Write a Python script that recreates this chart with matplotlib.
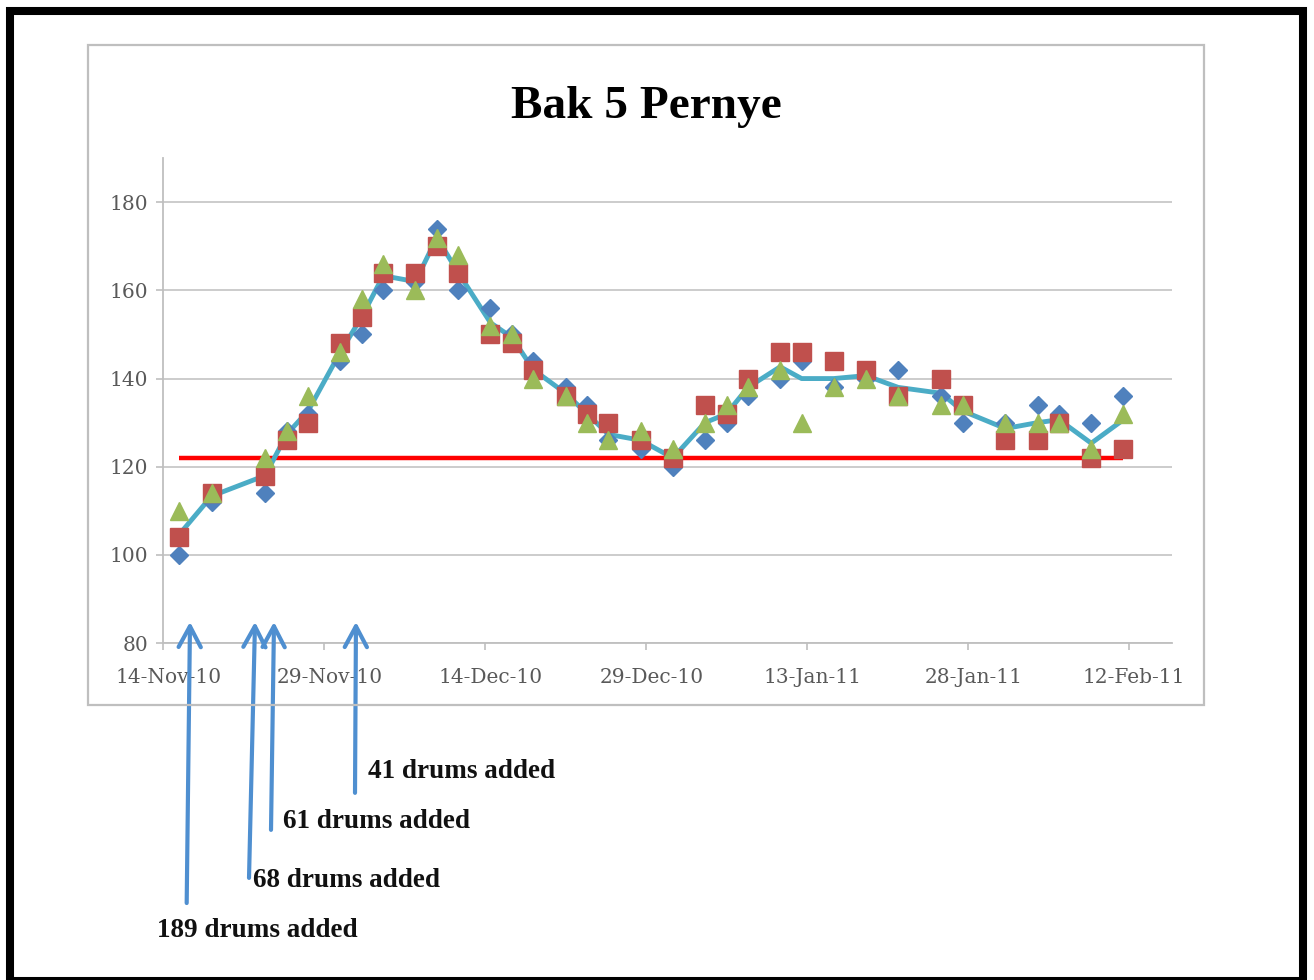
import numpy as np
import pandas as pd
import matplotlib
matplotlib.use('Agg')
import matplotlib.pyplot as plt
import matplotlib.dates as mdates
from matplotlib.patches import Rectangle

# readings per sample date (three measurements each)
dates = ['2010-11-15', '2010-11-18', '2010-11-23', '2010-11-25', '2010-11-27',
         '2010-11-30', '2010-12-02', '2010-12-04', '2010-12-07', '2010-12-09',
         '2010-12-11', '2010-12-14', '2010-12-16', '2010-12-18', '2010-12-21',
         '2010-12-23', '2010-12-25', '2010-12-28', '2010-12-31', '2011-01-03',
         '2011-01-05', '2011-01-07', '2011-01-10', '2011-01-12', '2011-01-15',
         '2011-01-18', '2011-01-21', '2011-01-25', '2011-01-27', '2011-01-31',
         '2011-02-03', '2011-02-05', '2011-02-08', '2011-02-11']
blue = [100, 112, 114, 128, 132, 144, 150, 160, 162, 174, 160, 156, 150, 144, 138, 134, 126,
        124, 120, 126, 130, 136, 140, 144, 138, 140, 142, 136, 130, 130, 134, 132, 130, 136]
red = [104, 114, 118, 126, 130, 148, 154, 164, 164, 170, 164, 150, 148, 142, 136, 132, 130,
       126, 122, 134, 132, 140, 146, 146, 144, 142, 136, 140, 134, 126, 126, 130, 122, 124]
green = [110, 114, 122, 128, 136, 146, 158, 166, 160, 172, 168, 152, 150, 140, 136, 130, 126,
         128, 124, 130, 134, 138, 142, 130, 138, 140, 136, 134, 134, 130, 130, 130, 124, 132]
target = 122

tick_dates = ['2010-11-14', '2010-11-29', '2010-12-14', '2010-12-29',
              '2011-01-13', '2011-01-28', '2011-02-12']

# hand drawn arrows: label, (tip day, tail day) counted from 14-Nov, tail value
arrow_labels = ['189 drums added', '68 drums added', '61 drums added', '41 drums added']
arrow_tip_day = [2.49, 8.55, 10.32, 17.96]
arrow_tail_day = [2.18, 7.99, 10.04, 17.87]
arrow_tail_val = [21.0, 26.7, 37.6, 46.0]
label_xy = [(157, 937), (253, 887), (283, 828), (368, 778)]  # pixels, baseline

W, H = 1314, 980
fig = plt.figure(figsize=(W / 100, H / 100), dpi=100)
fig.patch.set_facecolor('white')

ax = fig.add_axes([163.3 / W, 1 - 643 / H, (1171.7 - 163.3) / W, (643 - 158.2) / H])

half = pd.Timedelta(hours=12)   # excel puts points / labels mid-day
x = pd.to_datetime(dates) + half
avg = np.mean([blue, red, green], axis=0)
start = pd.Timestamp('2010-11-14')

ax.plot([x[0], x[-1]], [target, target], color='#FF0000', lw=3.2, zorder=2,
        solid_capstyle='butt')
ax.plot(x, avg, color='#4BACC6', lw=3.5, zorder=3)
ax.plot(x, blue, 'D', ms=9, color='#4F81BD', mec='#4F81BD', zorder=4)
ax.plot(x, red, 's', ms=12.5, color='#C0504D', mec='#C0504D', zorder=5)
ax.plot(x, green, '^', ms=13, color='#9BBB59', mec='#9BBB59', zorder=6)

ax.set_xlim(start, start + pd.Timedelta(days=94))
ax.set_ylim(80, 190)
ax.set_yticks(np.arange(80, 181, 20))
ticks = pd.to_datetime(tick_dates)
ax.set_xticks(ticks + half)
ax.set_xticks(ticks, minor=True)
ax.xaxis.set_major_formatter(mdates.DateFormatter('%d-%b-%y'))

for s in ['top', 'right']:
    ax.spines[s].set_visible(False)
for s in ['left', 'bottom']:
    ax.spines[s].set_color('#BFBFBF')
    ax.spines[s].set_linewidth(1.3)
ax.grid(axis='y', color='#C4C4C4', lw=1.2)
ax.set_axisbelow(True)
ax.tick_params(colors='#BFBFBF', labelcolor='#595959', length=5, width=1.2)
ax.tick_params(axis='x', which='major', length=0, pad=18)
ax.tick_params(axis='x', which='minor', length=5, width=1.2, colors='#BFBFBF')
ax.tick_params(axis='y', pad=6)
for lab in ax.get_xticklabels() + ax.get_yticklabels():
    lab.set_family('DejaVu Serif')
    lab.set_fontsize(14.5)

# arrows below the axis
for tip, tail, tv in zip(arrow_tip_day, arrow_tail_day, arrow_tail_val):
    ax.annotate('', xy=(start + pd.Timedelta(days=tip), 84.8),
                xytext=(start + pd.Timedelta(days=tail), tv),
                arrowprops=dict(arrowstyle='->,head_length=0.75,head_width=0.4',
                                color='#4F8FD0', lw=3, mutation_scale=20,
                                shrinkA=0, shrinkB=0),
                annotation_clip=False, zorder=7)

for lab, (px, py) in zip(arrow_labels, label_xy):
    fig.text(px / W, 1 - py / H, lab, ha='left', va='baseline', fontsize=19.5,
             fontweight='bold', family='Liberation Serif', color='#111111')

fig.text(646 / W, 1 - 118 / H, 'Bak 5 Pernye', ha='center', va='baseline',
         fontsize=34, fontweight='bold', family='Liberation Serif')

# chart box and outer black frame
fig.add_artist(Rectangle((88 / W, 1 - 705 / H), (1204 - 88) / W, (705 - 45) / H,
                         transform=fig.transFigure, fill=False, ec='#BFBFBF', lw=1.6))
fig.add_artist(Rectangle((10 / W, 1 - 981 / H), (1303 - 10) / W, (981 - 11) / H,
                         transform=fig.transFigure, fill=False, ec='black', lw=5.8))

fig.savefig('out.png', dpi=100)
